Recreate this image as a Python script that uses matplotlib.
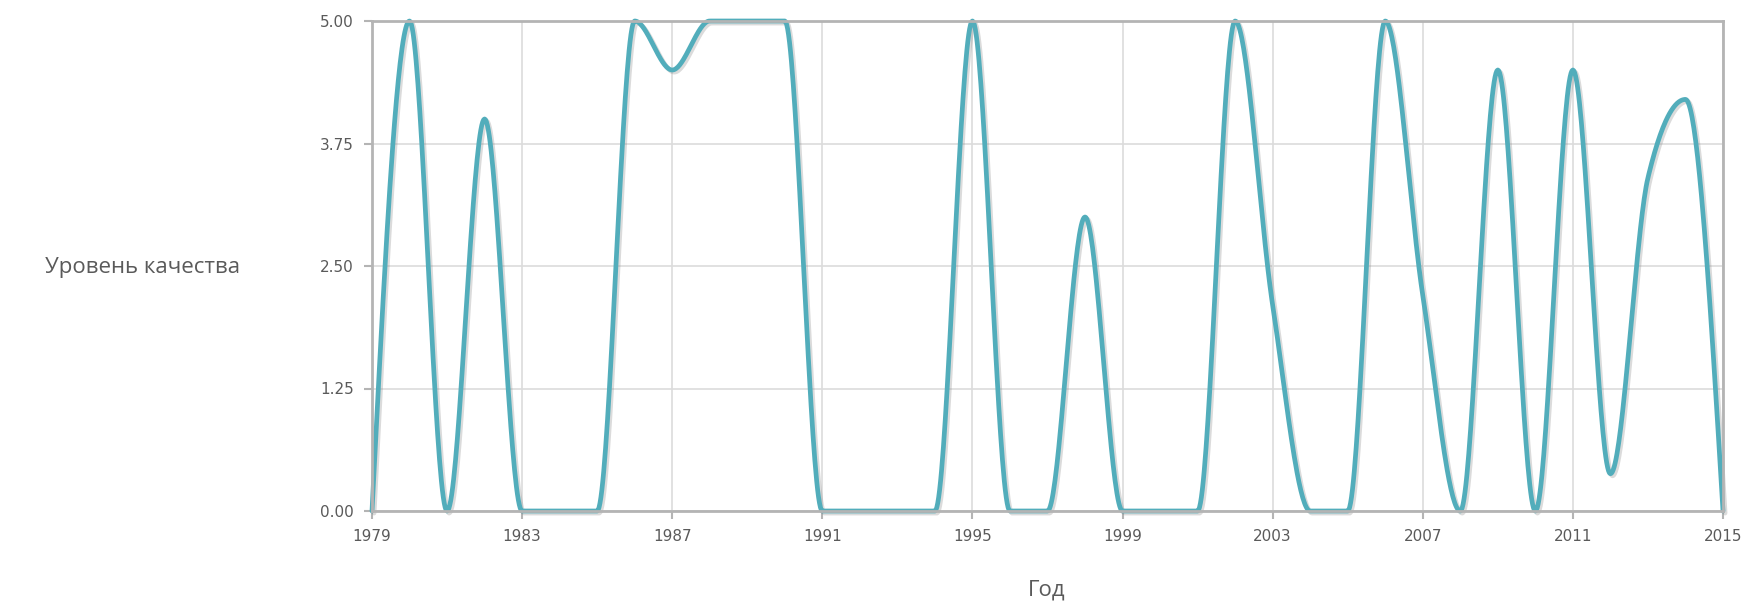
import numpy as np
from matplotlib import pyplot as plt
from matplotlib import patheffects as pe

# yearly values
years = list(range(1979, 2016))
quality = [0, 5, 0, 4, 0, 0, 0, 5, 4.5, 5, 5, 5, 0, 0, 0, 0, 5, 0, 0, 3,
           0, 0, 0, 5, 2.1, 0, 0, 5, 2.2, 0, 4.5, 0, 4.5, 0.38, 3.4, 4.2, 0]

x_ticks = list(range(1979, 2016, 4))
y_ticks = [0, 1.25, 2.5, 3.75, 5.0]
y_tick_labels = ['0.00', '1.25', '2.50', '3.75', '5.00']

line_color = '#52adbb'
axis_color = '#b4b4b4'
grid_color = '#dcdcdc'
text_color = '#5a5a5a'


def monotone_slopes(x, y):
    # same slopes as d3.curveMonotoneX
    n = len(x)
    h = np.diff(x)
    s = np.diff(y) / h
    t = np.zeros(n)
    for i in range(1, n - 1):
        p = (s[i - 1] * h[i] + s[i] * h[i - 1]) / (h[i - 1] + h[i])
        t[i] = (np.sign(s[i - 1]) + np.sign(s[i])) * min(abs(s[i - 1]), abs(s[i]), 0.5 * abs(p))
    t[0] = (3 * s[0] - t[1]) / 2
    t[-1] = (3 * s[-1] - t[-2]) / 2
    return t


def smooth(x, y, steps=40):
    x = np.asarray(x, float)
    y = np.asarray(y, float)
    m = monotone_slopes(x, y)
    xs, ys = [], []
    for i in range(len(x) - 1):
        h = x[i + 1] - x[i]
        u = np.linspace(0, 1, steps, endpoint=False)
        h00 = 2 * u**3 - 3 * u**2 + 1
        h10 = u**3 - 2 * u**2 + u
        h01 = -2 * u**3 + 3 * u**2
        h11 = u**3 - u**2
        xs.append(x[i] + u * h)
        ys.append(h00 * y[i] + h10 * h * m[i] + h01 * y[i + 1] + h11 * h * m[i + 1])
    xs.append([x[-1]])
    ys.append([y[-1]])
    return np.concatenate(xs), np.concatenate(ys)


fig = plt.figure(figsize=(17.43, 6.03), dpi=100)
ax = fig.add_axes([372 / 1743, 1 - 511 / 603, (1723 - 372) / 1743, (511 - 21) / 603])

sx, sy = smooth(years, quality)
ax.plot(sx, sy, color=line_color, lw=3.4, solid_capstyle='round', clip_on=False,
        path_effects=[pe.SimpleLineShadow(offset=(1.5, -1.5), shadow_color='#888888', alpha=0.3),
                      pe.Normal()])

ax.set_xlim(1979, 2015)
ax.set_ylim(0, 5)
ax.set_xticks(x_ticks)
ax.set_yticks(y_ticks)
ax.set_yticklabels(y_tick_labels)
ax.grid(True, color=grid_color, lw=1.2)
ax.set_axisbelow(True)

for side in ['left', 'bottom', 'top', 'right']:
    ax.spines[side].set_color(axis_color)
    ax.spines[side].set_linewidth(2)

ax.tick_params(colors=axis_color, length=6, width=1.5, labelcolor=text_color,
               labelsize=11, pad=7)
for lbl in ax.get_xticklabels() + ax.get_yticklabels():
    lbl.set_family(['Liberation Sans Narrow', 'DejaVu Sans'])

fig.text(240 / 1743, 1 - 268 / 603, 'Уровень качества', ha='right', va='center',
         fontsize=16, color=text_color, family=['Open Sans', 'DejaVu Sans'])
fig.text(1047 / 1743, 1 - 590 / 603, 'Год', ha='center', va='center',
         fontsize=16, color=text_color, family=['Open Sans', 'DejaVu Sans'])

fig.savefig('out.png', dpi=100)
